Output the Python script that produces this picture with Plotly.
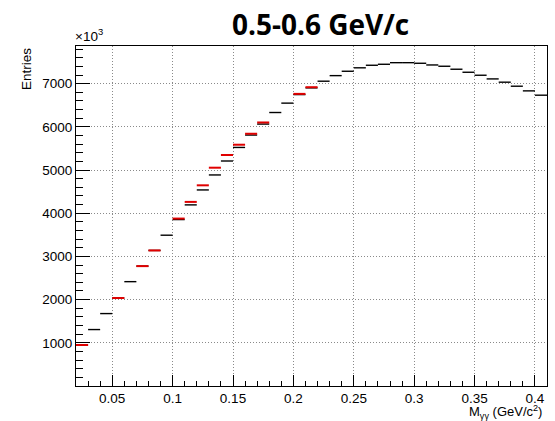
import plotly.graph_objects as go

bin_width = 0.01
bin_centers = [round(0.025 + i * 0.01, 3) for i in range(39)]

black_values = [945, 1307, 1677, 2037, 2416, 2776, 3139, 3492, 3854, 4194,
                4540, 4887, 5210, 5524, 5811, 6065, 6333, 6550, 6748, 6903,
                7058, 7187, 7288, 7368, 7427, 7450, 7487, 7487, 7473, 7434,
                7404, 7335, 7265, 7196, 7111, 7035, 6942, 6834, 6734]

red_values = [950, None, None, 2037, None, 2776, 3139, None, 3877, 4263,
              4647, 5055, 5349, 5587, 5841, 6102, None, None, 6764, 6919,
              None, None, None, None, None, None, None, None, None, None,
              None, None, None, None, None, None, None, None, None]

x_tick_step = 0.05
y_tick_step = 1000


def steps(centers, values, w):
    xs, ys = [], []
    for c, v in zip(centers, values):
        if v is None:
            continue
        xs += [c - w / 2, c + w / 2, None]
        ys += [v, v, None]
    return xs, ys


fig = go.Figure()
bx, by = steps(bin_centers, black_values, bin_width)
rx, ry = steps(bin_centers, red_values, bin_width)
fig.add_trace(go.Scatter(x=bx, y=by, mode="lines",
                         line=dict(color="black", width=1.4), showlegend=False))
fig.add_trace(go.Scatter(x=rx, y=ry, mode="lines",
                         line=dict(color="#e00000", width=2), showlegend=False))

tick_font = dict(family="Liberation Sans, Arial, sans-serif", size=13.5, color="black")
grid_dash = "1px,2px"

fig.update_xaxes(
    range=[0.02, 0.41], tickmode="linear", tick0=0, dtick=x_tick_step,
    ticks="inside", ticklen=11, tickcolor="black", tickwidth=1,
    minor=dict(ticks="inside", ticklen=5, dtick=0.01, tick0=0, tickcolor="black", showgrid=False),
    showline=True, linecolor="black", linewidth=1, mirror=True,
    showgrid=True, gridcolor="#8a8a8a", griddash=grid_dash, gridwidth=1,
    zeroline=False, tickfont=tick_font,
)
fig.update_yaxes(
    range=[0, 7873], tickmode="linear", tick0=0, dtick=y_tick_step,
    labelalias={"0": ""},
    ticks="inside", ticklen=14, tickcolor="black", tickwidth=1,
    minor=dict(ticks="inside", ticklen=7, dtick=200, tick0=0, tickcolor="black", showgrid=False),
    showline=True, linecolor="black", linewidth=1, mirror=True,
    showgrid=True, gridcolor="#8a8a8a", griddash=grid_dash, gridwidth=1,
    zeroline=False, tickfont=tick_font,
)

fig.update_layout(
    width=555, height=421,
    margin=dict(l=76, r=8, t=46, b=35),
    paper_bgcolor="white", plot_bgcolor="white",
    annotations=[
        dict(text="<b>0.5-0.6 GeV/c</b>", xref="paper", yref="paper",
             x=(320 - 76) / 471, y=1, yshift=22, xanchor="center", yanchor="middle",
             showarrow=False, font=dict(family="Open Sans, sans-serif", size=28, color="black")),
        dict(text="×10<sup>3</sup>", xref="paper", yref="paper", x=0, y=1,
             xanchor="left", yanchor="bottom", showarrow=False, xshift=-3,
             font=dict(family="Liberation Sans, Arial, sans-serif", size=13.5, color="black")),
        dict(text="Entries", xref="paper", yref="paper", x=0, y=1, xshift=-50,
             xanchor="center", yanchor="top", textangle=-90, showarrow=False,
             font=dict(family="Liberation Sans, Arial, sans-serif", size=13.5, color="black")),
        dict(text="M<sub>γγ</sub> (GeV/c<sup>2</sup>)", xref="paper", yref="paper",
             x=1, y=0, xanchor="right", yanchor="top", yshift=-15, xshift=-3, showarrow=False,
             font=dict(family="Liberation Sans, Arial, sans-serif", size=13, color="black")),
    ],
)

fig.write_html("out.html")
